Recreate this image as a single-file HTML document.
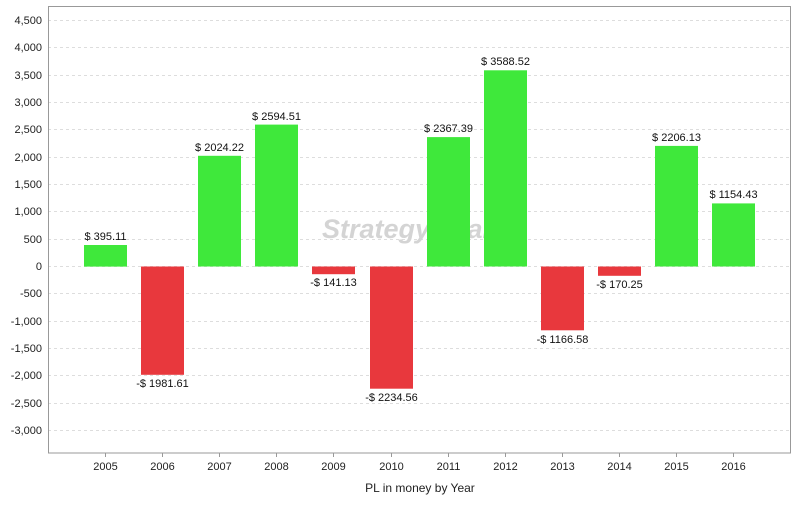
<!DOCTYPE html>
<html><head><meta charset="utf-8"><style>body{margin:0;background:#fff}</style></head><body>
<svg width="800" height="500" xmlns="http://www.w3.org/2000/svg" font-family="Liberation Sans, sans-serif">
<rect width="800" height="500" fill="#fff"/>
<g stroke="#ddd" stroke-dasharray="3,3" stroke-width="1">
<line x1="48" x2="791" y1="20.5" y2="20.5"/><line x1="48" x2="791" y1="47.5" y2="47.5"/><line x1="48" x2="791" y1="75.5" y2="75.5"/><line x1="48" x2="791" y1="102.5" y2="102.5"/><line x1="48" x2="791" y1="129.5" y2="129.5"/><line x1="48" x2="791" y1="157.5" y2="157.5"/><line x1="48" x2="791" y1="184.5" y2="184.5"/><line x1="48" x2="791" y1="211.5" y2="211.5"/><line x1="48" x2="791" y1="239.5" y2="239.5"/><line x1="48" x2="791" y1="266.5" y2="266.5"/><line x1="48" x2="791" y1="293.5" y2="293.5"/><line x1="48" x2="791" y1="321.5" y2="321.5"/><line x1="48" x2="791" y1="348.5" y2="348.5"/><line x1="48" x2="791" y1="375.5" y2="375.5"/><line x1="48" x2="791" y1="403.5" y2="403.5"/><line x1="48" x2="791" y1="430.5" y2="430.5"/>
</g>
<text x="322" y="238" font-size="27" font-weight="bold" font-style="italic" fill="#d4d4d4">StrategyQuant</text>
<g font-size="11" fill="#222" text-anchor="end">
<text x="42" y="24">4,500</text><text x="42" y="51">4,000</text><text x="42" y="79">3,500</text><text x="42" y="106">3,000</text><text x="42" y="133">2,500</text><text x="42" y="161">2,000</text><text x="42" y="188">1,500</text><text x="42" y="215">1,000</text><text x="42" y="243">500</text><text x="42" y="270">0</text><text x="42" y="297">-500</text><text x="42" y="325">-1,000</text><text x="42" y="352">-1,500</text><text x="42" y="379">-2,000</text><text x="42" y="407">-2,500</text><text x="42" y="434">-3,000</text>
</g>
<g>
<rect x="84" y="245" width="43" height="21.6" fill="#3fe83b"/>
<rect x="141" y="266.5" width="43" height="108.3" fill="#e8383d"/>
<rect x="198" y="155.8" width="43" height="110.7" fill="#3fe83b"/>
<rect x="255" y="124.6" width="43" height="141.9" fill="#3fe83b"/>
<rect x="312" y="266.5" width="43" height="7.7" fill="#e8383d"/>
<rect x="370" y="266.5" width="43" height="122.2" fill="#e8383d"/>
<rect x="427" y="137.1" width="43" height="129.4" fill="#3fe83b"/>
<rect x="484" y="70.3" width="43" height="196.2" fill="#3fe83b"/>
<rect x="541" y="266.5" width="43" height="63.8" fill="#e8383d"/>
<rect x="598" y="266.5" width="43" height="9.3" fill="#e8383d"/>
<rect x="655" y="145.9" width="43" height="120.6" fill="#3fe83b"/>
<rect x="712" y="203.4" width="43" height="63.1" fill="#3fe83b"/>
</g>
<g font-size="11" fill="#111" text-anchor="middle">
<text x="105.5" y="240">$ 395.11</text>
<text x="162.5" y="387">-$ 1981.61</text>
<text x="219.5" y="151">$ 2024.22</text>
<text x="276.5" y="120">$ 2594.51</text>
<text x="333.5" y="286">-$ 141.13</text>
<text x="391.5" y="401">-$ 2234.56</text>
<text x="448.5" y="132">$ 2367.39</text>
<text x="505.5" y="65">$ 3588.52</text>
<text x="562.5" y="343">-$ 1166.58</text>
<text x="619.5" y="288">-$ 170.25</text>
<text x="676.5" y="141">$ 2206.13</text>
<text x="733.5" y="198">$ 1154.43</text>
</g>
<rect x="48.5" y="6.5" width="742" height="446.5" fill="none" stroke="#999"/>
<g stroke="#999"><line x1="105.5" x2="105.5" y1="453" y2="457"/><line x1="162.5" x2="162.5" y1="453" y2="457"/><line x1="219.5" x2="219.5" y1="453" y2="457"/><line x1="276.5" x2="276.5" y1="453" y2="457"/><line x1="333.5" x2="333.5" y1="453" y2="457"/><line x1="391.5" x2="391.5" y1="453" y2="457"/><line x1="448.5" x2="448.5" y1="453" y2="457"/><line x1="505.5" x2="505.5" y1="453" y2="457"/><line x1="562.5" x2="562.5" y1="453" y2="457"/><line x1="619.5" x2="619.5" y1="453" y2="457"/><line x1="676.5" x2="676.5" y1="453" y2="457"/><line x1="733.5" x2="733.5" y1="453" y2="457"/></g>
<g font-size="11" fill="#222" text-anchor="middle">
<text x="105.5" y="470">2005</text><text x="162.5" y="470">2006</text><text x="219.5" y="470">2007</text><text x="276.5" y="470">2008</text><text x="333.5" y="470">2009</text><text x="391.5" y="470">2010</text><text x="448.5" y="470">2011</text><text x="505.5" y="470">2012</text><text x="562.5" y="470">2013</text><text x="619.5" y="470">2014</text><text x="676.5" y="470">2015</text><text x="733.5" y="470">2016</text>
</g>
<text x="420" y="492" font-size="12" fill="#222" text-anchor="middle">PL in money by Year</text>
</svg>
</body></html>
